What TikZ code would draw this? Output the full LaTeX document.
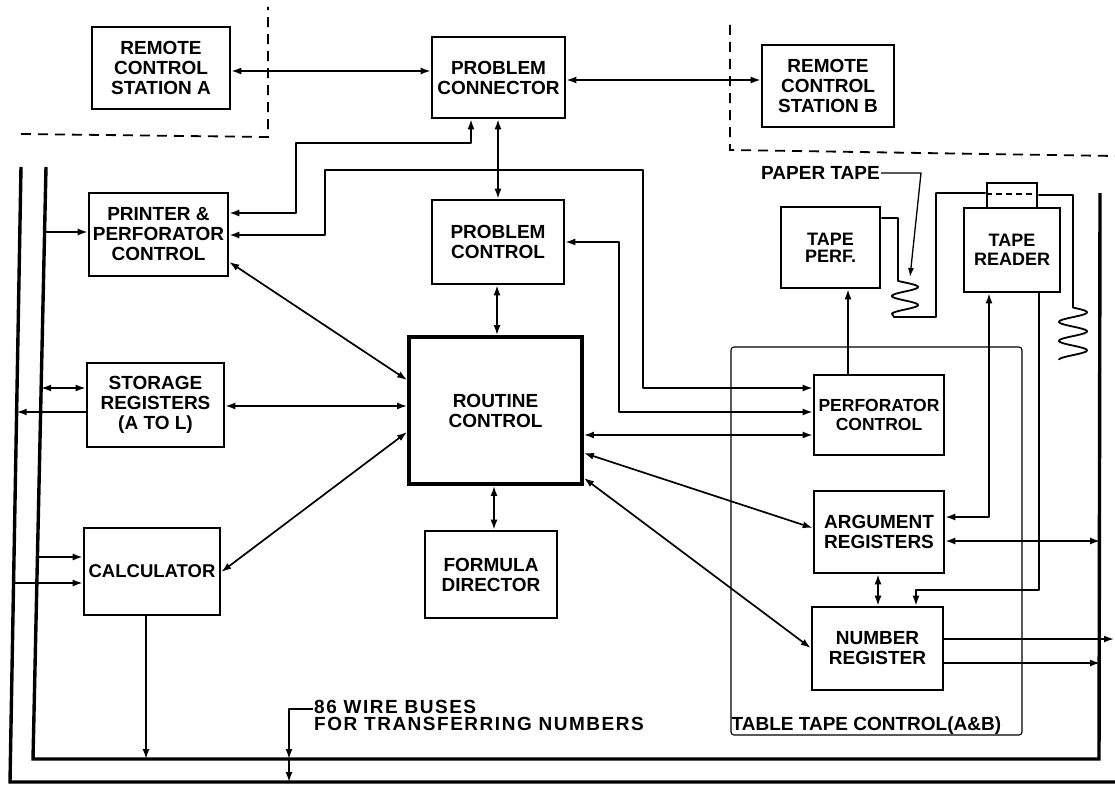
\documentclass[tikz,border=0pt]{standalone}
\usepackage{fontspec}
\setmainfont{Liberation Sans}
\usetikzlibrary{arrows.meta}
\begin{document}
\begin{tikzpicture}[x=1pt,y=-1pt,
  box/.style={draw, line width=2.6pt, align=center, inner sep=0pt,
    font=\fontsize{19}{20}\selectfont\bfseries},
  heavybox/.style={box, line width=3.8pt},
  conn/.style={line width=1.7pt, line join=round},
  both/.style={conn, {Latex[length=10pt,width=7pt]}-{Latex[length=10pt,width=7pt]}},
  tip/.style={conn, -{Latex[length=10pt,width=7pt]}},
  bus/.style={line width=3.4pt, line join=miter},
  dashline/.style={line width=1.8pt, dash pattern=on 10pt off 7pt},
  tape/.style={line width=1.8pt, line join=round},
  encl/.style={draw, line width=1.1pt, rounded corners=3pt},
  lbl/.style={inner sep=1pt, font=\fontsize{19}{20}\selectfont\bfseries},
  wlbl/.style={inner sep=1pt, align=left, font=\fontsize{19}{17}\selectfont\bfseries\addfontfeature{LetterSpace=8}}
]
\useasboundingbox (0,0) rectangle (1115,784);

% ---------- boxes ----------
\node[box, minimum width=138pt, minimum height=82pt] (rcsA) at (161,68) {REMOTE\\CONTROL\\STATION A};
\node[box, minimum width=133pt, minimum height=81pt] (pconn) at (498.5,77.5) {PROBLEM\\CONNECTOR};
\node[box, minimum width=132pt, minimum height=82pt] (rcsB) at (828,86) {REMOTE\\CONTROL\\STATION B};
\node[box, minimum width=139pt, minimum height=83pt] (printer) at (158.5,234.5) {PRINTER \&\\PERFORATOR\\CONTROL};
\node[box, minimum width=132pt, minimum height=84pt] (pcontrol) at (498,242) {PROBLEM\\CONTROL};
\node[heavybox, minimum width=173pt, minimum height=147pt] (routine) at (495.5,410.5) {ROUTINE\\CONTROL};
\node[box, minimum width=137pt, minimum height=84pt] (storage) at (155.5,405) {STORAGE\\REGISTERS\\(A TO L)};
\node[box, minimum width=136pt, minimum height=87pt, font=\fontsize{18.5}{20}\selectfont\bfseries] (calc) at (152,571.5) {CALCULATOR};
\node[box, minimum width=132pt, minimum height=87pt] (formula) at (491,574.5) {FORMULA\\DIRECTOR};
\node[box, minimum width=99pt, minimum height=81pt, font=\fontsize{18}{17}\selectfont\bfseries] (tapeperf) at (830.5,247.5) {TAPE\\PERF.};
\node[box, minimum width=96pt, minimum height=84pt, font=\fontsize{18}{19}\selectfont\bfseries] (reader) at (1012,250) {TAPE\\READER};
\node[box, minimum width=50pt, minimum height=25pt] (head) at (1012,195.5) {};
\node[box, minimum width=130pt, minimum height=80pt, font=\fontsize{17.5}{19}\selectfont\bfseries] (perfctl) at (879,415) {PERFORATOR\\CONTROL};
\node[box, minimum width=130pt, minimum height=82pt] (arg) at (879,532) {ARGUMENT\\REGISTERS};
\node[box, minimum width=131pt, minimum height=83pt] (num) at (877.5,648.5) {NUMBER\\REGISTER};
\node[encl, minimum width=291pt, minimum height=388pt] (ttc) at (876.5,541) {};
\node[lbl, anchor=south west] (ttclbl) at (ttc.south west) {TABLE TAPE CONTROL(A\&B)};

% ---------- dashed boundaries ----------
\draw[dashline] (21,134) -- (268,137) -- (268,7);
\draw[dashline] (730,25) -- (730,150) -- (1115,156);

% ---------- buses ----------
\draw[bus] (21,167) -- (10,782) -- (1115,782);
\draw[bus] (46,167) -- (33,759) -- (1099,759) -- (1100,193);

% bus tap points
\coordinate (tapPr) at (44.6,232);
\coordinate (tapSt) at (41.1,388);
\coordinate (tapSo) at (16.6,412);
\coordinate (tapCi) at (37.4,557);
\coordinate (tapCo) at (13.6,583);
\coordinate (busCalc) at (146,759);
\coordinate (rbusA) at (1100,541);
\coordinate (rbusN) at (1100,663);
\coordinate (numOut) at (1114,639);

% ---------- connectors ----------
\draw[both] (rcsA.east |- 0,71) -- (pconn.west |- 0,71);
\draw[both] (pconn.east |- 0,80) -- (rcsB.west |- 0,80);
\draw[both] (pconn.south -| 498,0) -- (pcontrol.north -| 498,0);
\draw[both] (pconn.south -| 471,0) |- (296,143) |- (printer.east |- 0,213);
\draw[both] (printer.east |- 0,235) -| (325,170) -| (643,388) -- (perfctl.west |- 0,388);
\draw[both] (pcontrol.east |- 0,242) -| (619,412) -- (perfctl.west |- 0,412);
\draw[both] (routine.east |- 0,435) -- (perfctl.west |- 0,435);
\draw[both] (pcontrol.south -| 497,0) -- (routine.north -| 497,0);
\draw[both] (routine.south -| 494,0) -- (formula.north -| 494,0);
\draw[both] (storage.east |- 0,406) -- (routine.west |- 0,406);
\draw[both] (printer.east |- 0,262) -- (routine.west |- 0,380);
\draw[both] (calc.east |- 0,572) -- (routine.west |- 0,432);
\draw[both] (routine.east |- 0,453) -- (arg.west |- 0,528);
\draw[both] (routine.east |- 0,478) -- (num.west |- 0,648);
\draw[tip] (perfctl.north -| 848,0) -- (tapeperf.south -| 848,0);
\draw[both] (arg.east |- 0,517) -| (reader.south -| 989,0);
\draw[tip] (reader.south -| 1039,0) |- (916,590) -- (num.north -| 916,0);
\draw[both] (arg.east |- 0,541) -- (rbusA);
\draw[both] (arg.south -| 878,0) -- (num.north -| 878,0);
\draw[tip] (num.east |- 0,639) -- (numOut);
\draw[tip] (num.east |- 0,663) -- (rbusN);

\draw[tip] (tapPr) -- (printer.west |- tapPr);
\draw[both] (tapSt) -- (storage.west |- tapSt);
\draw[tip] (storage.west |- tapSo) -- (tapSo);
\draw[tip] (tapCi) -- (calc.west |- tapCi);
\draw[tip] (tapCo) -- (calc.west |- tapCo);
\draw[tip] (calc.south -| 146,0) -- (busCalc);

% ---------- wire bus label ----------
\node[wlbl, anchor=north west] (wire) at (313,699) {86 WIRE BUSES\\FOR TRANSFERRING NUMBERS};
\coordinate (wA) at (289,759);
\coordinate (wB) at (289,782);
\draw[tip] (wire.west |- 0,709) -| (wA);
\draw[tip] (wA) -- (wB);

% ---------- paper tape ----------
\node[lbl, anchor=west] (ptl) at (760,173) {PAPER TAPE};
\coordinate (ptTip) at (910,277);
\draw[conn, line width=1.3pt, -{Latex[length=9pt,width=6pt]}] (ptl.east) -- (921,173) -- (ptTip);

\draw[tape] (tapeperf.east |- 0,218) -| (898,281)
  -- plot[domain=-32.6:630, samples=90, smooth, variable=\t] ({905+13*sin(\t)}, {287+(\t-90)/20})
  -- (894,317) -- (936,317) |- (head.west |- 0,193);
\draw[line width=1.8pt, dash pattern=on 6pt off 4pt] (head.west |- 0,194) -- (head.east |- 0,194);
\draw[tape] (head.east |- 0,195) -| (1073,307.6)
  -- plot[domain=0:990, samples=120, smooth, variable=\t] ({1073+14*sin(\t)}, {307.6+\t/18.95});
\end{tikzpicture}
\end{document}
